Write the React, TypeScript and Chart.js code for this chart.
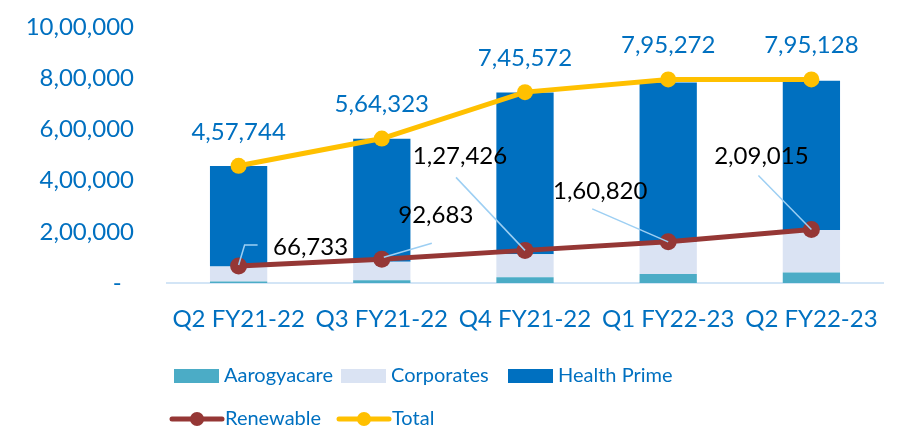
import React, { useEffect, useRef } from "react";
import { Chart, registerables } from "chart.js";

Chart.register(...registerables);

// Quarters on the category axis
const quarters = ["Q2 FY21-22", "Q3 FY21-22", "Q4 FY21-22", "Q1 FY22-23", "Q2 FY22-23"];

// Stacked segments (lives)
const aarogyacare = [6000, 11000, 22000, 35000, 41000];
const corporates = [58000, 72000, 90000, 126000, 166000];
const healthPrime = [393000, 480000, 632000, 622000, 583000];

// Line series
const renewable = [66733, 92683, 127426, 160820, 209015];
const total = [457744, 564323, 745572, 795272, 795128];

// Value axis ticks
const yMax = 1000000;
const yStep = 200000;

const FONT = "Lato, 'Open Sans', sans-serif";
const BLUE_TEXT = "#0070C0";
const COLORS = {
  aarogyacare: "#4BACC6",
  corporates: "#DAE3F3",
  healthPrime: "#0070C0",
  renewable: "#953735",
  total: "#FFC000",
  leader: "#9DCFF3",
  axis: "#D3E5F6",
};

// Placement of the Renewable value labels relative to each point:
// label centre offset and the leader path drawn back to the point.
const renewableLabelPlacement = [
  { dx: 72, dy: -19, path: [[0, -1], [6, -21], [19, -21]] },
  { dx: 54, dy: -44, path: [[2, -2], [50, -16]] },
  { dx: -65, dy: -94, path: [[0, 0], [-69, -73]] },
  { dx: -68, dy: -51, path: [[0, 0], [-76, -33]] },
  { dx: -50, dy: -73, path: [[0, 0], [-53, -54]] },
];

function formatIndian(n: number): string {
  const s = String(Math.round(n));
  if (s.length <= 3) return s;
  const last3 = s.slice(-3);
  let rest = s.slice(0, -3);
  const parts: string[] = [];
  while (rest.length > 2) {
    parts.unshift(rest.slice(-2));
    rest = rest.slice(0, -2);
  }
  if (rest) parts.unshift(rest);
  return parts.join(",") + "," + last3;
}

const valueLabels = {
  id: "valueLabels",
  afterDatasetsDraw(chart: any) {
    const ctx = chart.ctx;
    ctx.save();
    // Total labels above the points
    const totalMeta = chart.getDatasetMeta(0);
    ctx.font = `24px ${FONT}`;
    ctx.fillStyle = BLUE_TEXT;
    ctx.textAlign = "center";
    ctx.textBaseline = "middle";
    totalMeta.data.forEach((pt: any, i: number) => {
      ctx.fillText(formatIndian(total[i]), pt.x, pt.y - 34);
    });

    // Renewable labels with leader lines
    const renMeta = chart.getDatasetMeta(1);
    renMeta.data.forEach((pt: any, i: number) => {
      const p = renewableLabelPlacement[i];
      ctx.strokeStyle = COLORS.leader;
      ctx.lineWidth = 1.5;
      ctx.beginPath();
      p.path.forEach(([ox, oy], k) => {
        if (k === 0) ctx.moveTo(pt.x + ox, pt.y + oy);
        else ctx.lineTo(pt.x + ox, pt.y + oy);
      });
      ctx.stroke();
      ctx.fillStyle = "#000000";
      ctx.font = `24px ${FONT}`;
      ctx.fillText(formatIndian(renewable[i]), pt.x + p.dx, pt.y + p.dy);
    });
    ctx.restore();
  },
};

const bottomLegend = {
  id: "bottomLegend",
  afterDraw(chart: any) {
    const ctx = chart.ctx;
    const colX = [174, 341, 508];
    ctx.save();
    ctx.font = `20px ${FONT}`;
    ctx.textBaseline = "middle";
    ctx.textAlign = "left";

    const boxes = [
      { label: "Aarogyacare", color: COLORS.aarogyacare },
      { label: "Corporates", color: COLORS.corporates },
      { label: "Health Prime", color: COLORS.healthPrime },
    ];
    const row1 = 376;
    boxes.forEach((b, i) => {
      ctx.fillStyle = b.color;
      ctx.fillRect(colX[i], row1 - 7, 45, 14);
      ctx.fillStyle = BLUE_TEXT;
      ctx.fillText(b.label, colX[i] + 50, row1);
    });

    const lines = [
      { label: "Renewable", color: COLORS.renewable },
      { label: "Total", color: COLORS.total },
    ];
    const row2 = 419;
    lines.forEach((l, i) => {
      const x = colX[i] - 2;
      ctx.strokeStyle = l.color;
      ctx.lineWidth = 5;
      ctx.lineCap = "round";
      ctx.beginPath();
      ctx.moveTo(x, row2);
      ctx.lineTo(x + 50, row2);
      ctx.stroke();
      ctx.fillStyle = l.color;
      ctx.beginPath();
      ctx.arc(x + 25, row2, 7, 0, Math.PI * 2);
      ctx.fill();
      ctx.fillStyle = BLUE_TEXT;
      ctx.fillText(l.label, x + 53, row2);
    });
    ctx.restore();
  },
};

export default function App() {
  const canvasRef = useRef<HTMLCanvasElement | null>(null);

  useEffect(() => {
    document.body.style.margin = "0";
    const canvas = canvasRef.current;
    if (!canvas) return;

    const chart = new Chart(canvas, {
      type: "bar",
      data: {
        labels: quarters,
        datasets: [
          {
            type: "line",
            label: "Total",
            data: total,
            stack: "total",
            order: 0,
            borderColor: COLORS.total,
            backgroundColor: COLORS.total,
            borderWidth: 5,
            pointRadius: 8,
            pointHoverRadius: 8,
            pointBorderWidth: 0,
            tension: 0,
          } as any,
          {
            type: "line",
            label: "Renewable",
            data: renewable,
            stack: "renewable",
            order: 1,
            borderColor: COLORS.renewable,
            backgroundColor: COLORS.renewable,
            borderWidth: 5,
            pointRadius: 8.5,
            pointHoverRadius: 8.5,
            pointBorderWidth: 0,
            tension: 0,
          } as any,
          {
            label: "Aarogyacare",
            data: aarogyacare,
            backgroundColor: COLORS.aarogyacare,
            order: 2,
          },
          {
            label: "Corporates",
            data: corporates,
            backgroundColor: COLORS.corporates,
            order: 2,
          },
          {
            label: "Health Prime",
            data: healthPrime,
            backgroundColor: COLORS.healthPrime,
            order: 2,
          },
        ],
      },
      options: {
        responsive: false,
        animation: false,
        layout: { padding: { top: 27, right: 21, bottom: 106, left: 0 } },
        datasets: {
          bar: { categoryPercentage: 0.8, barPercentage: 0.5 },
        },
        plugins: {
          legend: { display: false },
          tooltip: { enabled: false },
        },
        scales: {
          x: {
            stacked: true,
            grid: { display: false, drawTicks: false },
            border: { display: true, color: COLORS.axis, width: 2 },
            afterFit(scale: any) {
              scale.paddingLeft = 0;
              scale.paddingRight = 0;
              scale.height = 51;
            },
            ticks: {
              color: BLUE_TEXT,
              font: { family: FONT, size: 24 },
              padding: 22,
              maxRotation: 0,
            },
          },
          y: {
            stacked: true,
            min: 0,
            max: yMax,
            grid: { display: false, drawTicks: false },
            border: { display: false },
            afterFit(scale: any) {
              scale.width = 167;
              scale.paddingTop = 0;
              scale.paddingBottom = 0;
            },
            ticks: {
              stepSize: yStep,
              color: BLUE_TEXT,
              font: { family: FONT, size: 24 },
              padding: 33,
              callback: (v: any) => (Number(v) === 0 ? "-  " : formatIndian(Number(v))),
            },
          },
        },
      },
      plugins: [valueLabels, bottomLegend],
    });

    return () => chart.destroy();
  }, []);

  return (
    <div style={{ width: 904, height: 440 }}>
      <canvas ref={canvasRef} width={904} height={440} style={{ display: "block" }} />
    </div>
  );
}
